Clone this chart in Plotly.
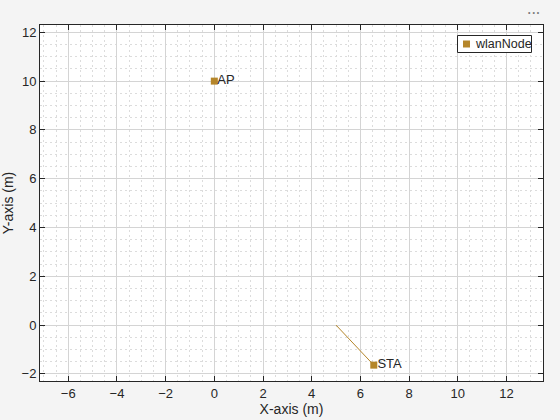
import plotly.graph_objects as go

node_names = ["AP", "STA"]
node_x = [0.0, 6.55]
node_y = [10.0, -1.64]
path_x = [5.0, 6.55]
path_y = [0.0, -1.64]
x_ticks = [-6, -4, -2, 0, 2, 4, 6, 8, 10, 12]
y_ticks = [-2, 0, 2, 4, 6, 8, 10, 12]
legend_label = "wlanNode"

color = "#B5862A"
font = "Liberation Sans, Arial, Helvetica, sans-serif"
W, H = 560, 420
L, R, T, B = 40, 17, 25, 39
pw, ph = W - L - R, H - T - B

fig = go.Figure()
fig.add_trace(go.Scatter(x=path_x, y=path_y, mode="lines",
                         line=dict(color=color, width=1), showlegend=False, hoverinfo="skip"))
fig.add_trace(go.Scatter(x=node_x, y=node_y, mode="markers", name=legend_label, showlegend=False,
                         marker=dict(symbol="square", size=7, color=color, line=dict(width=0))))
fig.add_trace(go.Scatter(x=node_x, y=node_y, mode="text", text=[" " + n for n in node_names],
                         textposition="middle right", showlegend=False,
                         textfont=dict(size=13, color="#262626", family=font)))

axis_common = dict(
    showline=True, linecolor="#262626", linewidth=1, mirror="allticks",
    ticks="inside", ticklen=5, tickcolor="#262626",
    showgrid=True, gridcolor="#d4d4d4", gridwidth=1,
    zeroline=False, automargin=False,
    tickfont=dict(size=13, color="#262626", family=font),
    minor=dict(dtick=0.5, showgrid=True, gridcolor="#dcdcdc", griddash="2px,3px", ticks=""),
)

fig.update_xaxes(range=[-7.16, 13.5], tickvals=x_ticks,
                 title=dict(text="X-axis (m)", font=dict(size=14, color="#262626", family=font), standoff=2),
                 **axis_common)
fig.update_yaxes(range=[-2.29, 12.3], tickvals=y_ticks,
                 title=dict(text="Y-axis (m)", font=dict(size=14, color="#262626", family=font), standoff=4),
                 **axis_common)

# legend box (manual, MATLAB-like compact)
def px(x): return (x - L) / pw
def py(y): return (H - B - y) / ph
fig.add_shape(type="rect", xref="paper", yref="paper", x0=px(457.5), x1=px(531.5), y0=py(52.5), y1=py(35.5),
              line=dict(color="#262626", width=1), fillcolor="white")
fig.add_shape(type="rect", xref="paper", yref="paper", x0=px(463), x1=px(470), y0=py(47.5), y1=py(40.5),
              line=dict(width=0), fillcolor=color)
fig.add_annotation(xref="paper", yref="paper", x=px(473), y=py(44), xanchor="left", yanchor="middle",
                   text=legend_label, showarrow=False, font=dict(size=12.5, color="#262626", family=font))

fig.add_annotation(xref="paper", yref="paper", x=px(542), y=py(13), xanchor="right", yanchor="middle",
                   text="• • •", showarrow=False, font=dict(size=7, color="#777777"))

fig.update_layout(
    width=W, height=H,
    margin=dict(l=L, r=R, t=T, b=B, autoexpand=False),
    paper_bgcolor="#f4f4f4", plot_bgcolor="white",
    font=dict(family=font, color="#262626"),
    showlegend=False,
)

fig.write_html("out.html", config={"displayModeBar": False},
               post_script="document.body.style.margin='0';document.body.style.background='#f4f4f4';")
